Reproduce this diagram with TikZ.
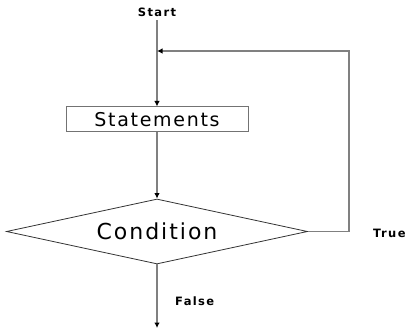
\documentclass[tikz,border=0pt]{standalone}
\usepackage{fontspec}
\setmainfont{DejaVu Sans}
\newfontfamily\comic{DejaVu Sans}[LetterSpace=9]
\newfontfamily\comicb{DejaVu Sans}[LetterSpace=12]
\usetikzlibrary{shapes.geometric,arrows.meta}
\begin{document}
\begin{tikzpicture}[x=1pt,y=-1pt,
  conn/.style={draw=black!50,line width=1.5pt,-{Latex[length=5.5pt,width=5.5pt,black]}},
  lbl/.style={font=\comicb\bfseries\fontsize{11.5}{13}\selectfont,inner sep=0pt},
  stmtbox/.style={draw=black!55,line width=1pt,minimum width=182pt,minimum height=25pt,inner sep=0pt,font=\comic\fontsize{19}{22}\selectfont},
  cbox/.style={diamond,draw=black!80,line width=0.8pt,aspect=4.6,minimum width=301pt,minimum height=65pt,inner sep=0pt,font=\comic\fontsize{22}{26}\selectfont}]
\useasboundingbox (0,0) rectangle (417,331);
\node[lbl,anchor=base] (start) at (157,17) {Start};
\node[stmtbox] (stmt) at (157,119.5) {Statements};
\node[cbox] (cond) at (157,231.5) {Condition};
\coordinate (tr) at (349,231.5);
\coordinate (tt) at (349,51);
\coordinate (join) at (157,51);
\coordinate (end) at (157,328);
\node[lbl,anchor=west] (true) at (373,233) {True};
\node[lbl,anchor=west] (false) at (175,301) {False};
\draw[conn] ([yshift=-3pt]start.south) -- (stmt.north);
\draw[conn] (stmt.south) -- (cond.north);
\draw[conn] (cond.east) -- (tr) -- (tt) -- (join);
\draw[conn] (cond.south) -- (end);
\end{tikzpicture}
\end{document}
